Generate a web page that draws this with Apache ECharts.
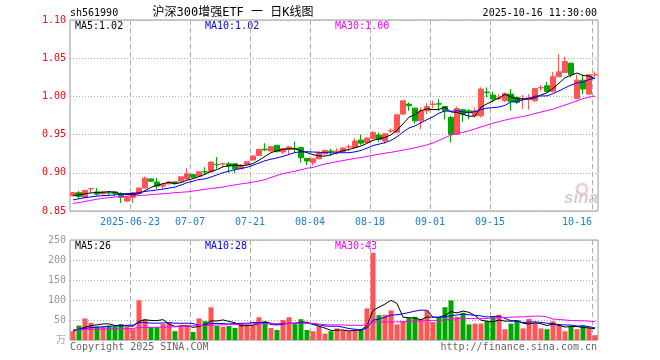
<!DOCTYPE html>
<html><head><meta charset="utf-8">
<script src="https://cdn.jsdelivr.net/npm/echarts@6/dist/echarts.min.js"></script>
<style>html,body{margin:0;padding:0;background:#fff}#c{width:660px;height:360px}</style>
</head><body><div id="c"></div>
<script>
const dates = [
'2025-06-09','2025-06-10','2025-06-11','2025-06-12','2025-06-13','2025-06-16','2025-06-17','2025-06-18','2025-06-19','2025-06-20',
'2025-06-23','2025-06-24','2025-06-25','2025-06-26','2025-06-27','2025-06-30','2025-07-01','2025-07-02','2025-07-03','2025-07-04',
'2025-07-07','2025-07-08','2025-07-09','2025-07-10','2025-07-11','2025-07-14','2025-07-15','2025-07-16','2025-07-17','2025-07-18',
'2025-07-21','2025-07-22','2025-07-23','2025-07-24','2025-07-25','2025-07-28','2025-07-29','2025-07-30','2025-07-31','2025-08-01',
'2025-08-04','2025-08-05','2025-08-06','2025-08-07','2025-08-08','2025-08-11','2025-08-12','2025-08-13','2025-08-14','2025-08-15',
'2025-08-18','2025-08-19','2025-08-20','2025-08-21','2025-08-22','2025-08-25','2025-08-26','2025-08-27','2025-08-28','2025-08-29',
'2025-09-01','2025-09-02','2025-09-03','2025-09-04','2025-09-05','2025-09-08','2025-09-09','2025-09-10','2025-09-11','2025-09-12',
'2025-09-15','2025-09-16','2025-09-17','2025-09-18','2025-09-19','2025-09-22','2025-09-23','2025-09-24','2025-09-25','2025-09-26',
'2025-09-29','2025-09-30','2025-10-09','2025-10-10','2025-10-13','2025-10-14','2025-10-15','2025-10-16'];

const tickDates = ['2025-06-23','2025-07-07','2025-07-21','2025-08-04','2025-08-18','2025-09-01','2025-09-15','2025-10-16'];
const tickLabels = ['2025-06-23','07-07','07-21','08-04','08-18','09-01','09-15','10-16'];

const openP = [0.870,0.874,0.868,0.879,0.875,0.8725,0.874,0.875,0.8725,0.863,
0.868,0.873,0.880,0.892,0.888,0.8825,0.8855,0.888,0.889,0.892,
0.8978,0.8956,0.9015,0.9013,0.911,0.9115,0.9118,0.9118,0.9053,0.911,
0.9167,0.9228,0.931,0.9285,0.936,0.9272,0.9307,0.932,0.9329,0.9189,
0.9132,0.9184,0.925,0.9285,0.928,0.928,0.9338,0.933,0.9428,0.9398,
0.9452,0.9494,0.9417,0.9545,0.9526,0.9768,0.9899,0.9846,0.968,0.9811,
0.9895,0.9904,0.9868,0.9724,0.9504,0.9825,0.9811,0.9746,0.9746,1.0057,
1.0017,0.997,0.9943,1.003,0.9987,0.9965,0.996,0.9943,1.011,1.0139,
1.0065,1.0257,1.0313,1.0435,0.9974,1.0213,1.003,1.028];
const closeP = [0.874,0.869,0.877,0.8795,0.872,0.875,0.8735,0.873,0.868,0.868,
0.874,0.880,0.893,0.889,0.8825,0.8845,0.888,0.886,0.8947,0.8987,
0.8943,0.9013,0.901,0.914,0.9105,0.912,0.9088,0.9053,0.910,0.9145,
0.922,0.9307,0.930,0.9342,0.9276,0.9316,0.9338,0.931,0.9197,0.9154,
0.9184,0.9263,0.9294,0.9278,0.9285,0.9325,0.9342,0.9417,0.9388,0.9455,
0.9526,0.9437,0.951,0.955,0.9759,0.9943,0.9877,0.968,0.9811,0.9868,
0.9899,0.9899,0.9811,0.9504,0.9842,0.9768,0.9785,0.9811,1.0096,1.005,
0.9965,0.998,1.0039,0.993,0.9922,0.997,0.998,1.0104,1.0117,1.0065,
1.0257,1.0322,1.0457,1.0283,1.0213,1.0096,1.0283,1.0285];
const lowP = [0.869,0.866,0.867,0.874,0.870,0.871,0.870,0.870,0.8605,0.862,
0.8605,0.872,0.879,0.888,0.879,0.879,0.885,0.884,0.888,0.891,
0.894,0.895,0.8978,0.900,0.9053,0.9075,0.900,0.900,0.905,0.910,
0.916,0.922,0.9285,0.928,0.927,0.9241,0.9241,0.9263,0.9132,0.910,
0.9096,0.9175,0.9228,0.9228,0.924,0.9275,0.9285,0.932,0.9364,0.939,
0.9439,0.9404,0.938,0.952,0.952,0.976,0.9811,0.9645,0.957,0.9768,
0.9846,0.9811,0.970,0.9395,0.9496,0.9667,0.970,0.9724,0.9724,0.9987,
0.9922,0.995,0.993,0.9813,0.990,0.9835,0.9826,0.993,1.0074,1.0052,
1.0052,1.0257,1.0313,1.0248,0.9965,1.003,1.003,1.0248];
const highP = [0.875,0.876,0.878,0.880,0.880,0.876,0.876,0.876,0.8745,0.870,
0.875,0.881,0.895,0.892,0.8935,0.886,0.889,0.889,0.895,0.9057,
0.898,0.902,0.9075,0.915,0.9206,0.9132,0.914,0.912,0.911,0.915,
0.923,0.931,0.9386,0.9351,0.936,0.9325,0.9351,0.9408,0.9342,0.919,
0.919,0.9285,0.9294,0.9316,0.932,0.933,0.9373,0.9452,0.950,0.946,
0.9548,0.9526,0.952,0.958,0.976,0.9943,0.9921,0.985,0.9855,0.9912,
0.9943,0.9965,0.9877,0.9746,0.9868,0.9833,0.9833,0.9855,1.0118,1.0118,
1.0061,1.003,1.005,1.0096,1.000,1.0017,1.003,1.011,1.0148,1.0191,
1.0322,1.0552,1.052,1.0443,1.0283,1.0278,1.0283,1.0326];

const ma5 = [0.8702,0.8712,0.8725,0.8737,0.8743,0.8745,0.8754,0.8746,0.8723,0.8715,
0.8713,0.8726,0.8766,0.8808,0.8837,0.8858,0.8874,0.886,0.8871,0.8904,
0.8923,0.895,0.898,0.9019,0.9042,0.9078,0.9093,0.9101,0.9093,0.9101,
0.9121,0.9165,0.9214,0.9263,0.9289,0.9308,0.9314,0.9316,0.9287,0.9263,
0.9237,0.9222,0.9218,0.9235,0.9261,0.9289,0.9305,0.9329,0.9351,0.9385,
0.9426,0.9445,0.9463,0.9496,0.9556,0.964,0.9728,0.9762,0.9814,0.9836,
0.9827,0.9831,0.9858,0.9796,0.9791,0.9765,0.9742,0.9742,0.986,0.9902,
0.9941,0.998,1.0026,0.9993,0.9967,0.9968,0.9968,0.9981,1.0019,1.0047,
1.0105,1.0173,1.0244,1.0277,1.0306,1.0274,1.0266,1.0232];
const ma10 = [0.8645,0.866,0.8675,0.8685,0.8695,0.870,0.8705,0.871,0.872,0.8729,
0.8729,0.874,0.8756,0.8766,0.8776,0.8786,0.880,0.8813,0.884,0.887,
0.8891,0.8912,0.892,0.8945,0.8973,0.9001,0.9021,0.9041,0.9056,0.9072,
0.9099,0.9129,0.9158,0.9178,0.9195,0.9215,0.924,0.9265,0.9275,0.9276,
0.9272,0.9268,0.9267,0.9261,0.9262,0.9263,0.9263,0.9274,0.9293,0.9323,
0.9357,0.9375,0.9396,0.9424,0.9471,0.9533,0.9586,0.9613,0.9655,0.9696,
0.9733,0.978,0.981,0.9805,0.9813,0.9796,0.9787,0.980,0.9828,0.9847,
0.9853,0.9861,0.9884,0.9927,0.9935,0.9955,0.9974,1.0004,1.0006,1.0007,
1.0036,1.0071,1.0112,1.0148,1.0177,1.0189,1.022,1.0238];
const ma30 = [0.860,0.861,0.8625,0.864,0.8655,0.8665,0.8675,0.8683,0.8688,0.8692,
0.8696,0.8702,0.8708,0.8714,0.872,0.8726,0.8733,0.874,0.8745,0.875,
0.876,0.8773,0.8783,0.8795,0.8805,0.8813,0.883,0.8842,0.8855,0.8865,
0.8878,0.8893,0.891,0.894,0.8965,0.899,0.9005,0.902,0.904,0.906,
0.907,0.9095,0.9115,0.913,0.9147,0.916,0.9175,0.9188,0.920,0.9215,
0.923,0.9243,0.9257,0.9268,0.9283,0.9297,0.9312,0.9328,0.9345,0.9365,
0.939,0.9425,0.946,0.9493,0.9512,0.953,0.955,0.9575,0.960,0.9625,
0.965,0.967,0.969,0.9708,0.9723,0.9737,0.9755,0.9777,0.9795,0.9815,
0.9833,0.986,0.9887,0.9915,0.9943,0.997,0.999,1.0005];

const volume = [22,36,54,43,34,34,36,34,40,34,
27,99,52,32,32,40,43,22,37,36,
20,54,47,82,35,33,35,30,43,39,
37,57,47,30,25,50,57,39,52,25,
22,34,16,22,29,24,22,24,27,79,
218,62,63,74,39,47,55,58,53,74,
45,55,82,99,58,68,39,41,41,47,
58,63,27,41,50,29,53,43,29,27,
47,37,22,35,27,36,31,12];
const volMa5 = [22,27,32,36,37.8,40.2,40.2,36.2,35.6,35.6,
34.2,46.8,50.4,48.8,48.4,51,39.8,33.8,34.8,35.6,
31.6,33.8,38.8,47.8,47.6,50.2,46.4,43,35.2,36,
36.8,41.2,44.6,42,39.2,41.8,41.8,40.2,44.6,44.6,
39,34.4,29.8,23.8,24.6,25,22.6,24.2,25.2,35.2,
74,82,89.8,99.2,91.2,57,55.6,54.6,50.4,57.4,
57,57,61.8,71,67.8,72.4,69.2,61,49.4,47.2,
45.2,50,47.2,47.2,47.8,42,40,43.2,40.8,36.2,
39.8,36.6,32.4,33.6,33.6,31.4,30.2,28.2];
const volMa10 = [25,27,29,31,32,33,34,35,35.5,36.7,
37.2,43.5,43.3,42.2,42,42.6,43.3,42.1,41.8,42,
41.3,36.8,36.3,41.3,41.6,40.9,40.1,40.9,41.5,41.8,
43.5,43.8,43.8,38.6,37.6,39.3,41.5,42.4,43.3,41.9,
40.4,38.1,35,34.2,34.6,32,28.5,27,24.5,29.9,
49.5,52.3,57,62.2,63.2,65.5,68.8,72.2,74.8,74.3,
57,56.3,58.2,60.7,62.6,64.7,63.1,61.4,60.2,57.5,
58.8,59.6,54.1,48.3,47.5,43.6,45,45.2,44,42,
40.9,38.3,37.8,37.2,34.9,35.6,33.4,30.3];
const volMa30 = [25,25.5,26,26.5,27,27.5,28,28,28.5,28.5,
29,31,31.5,31.5,32,32,32.5,33,34,35,
35.5,36,36.5,37,37.5,38,38.5,39,39.5,40.2,
40.7,41.4,41.1,40.7,40.4,40.9,41.6,41.8,42.2,41.9,
41.7,39.6,38.4,38,37.9,37.4,36.7,36.8,36.4,37.9,
44.5,44.7,45.3,45,45.1,45.6,46.3,47.2,47.5,48.7,
49,48.9,50.1,52.4,53.5,54.1,53.5,53.5,53.2,53.9,
55.1,56.1,56.4,57.1,57.8,57.9,59,59.6,59.7,57.9,
52.2,51.4,50,48.7,48.3,48,47.2,45.6];

const RED = '#ff5555', GREEN = '#00a600';
const MONO = 'DejaVu Sans Mono';
const PRICE_MIN = 0.85, PRICE_MAX = 1.10, VOL_MIN = 0, VOL_MAX = 250;
const candleData = dates.map((d, i) => [openP[i], closeP[i], lowP[i], highP[i]]);
const volData = volume.map((v, i) => ({value: v, itemStyle: {color: closeP[i] >= openP[i] ? RED : GREEN}}));
const tickIdx = tickDates.map(d => dates.indexOf(d));

const hSplit = {show: true, lineStyle: {color: '#aaa', type: [1, 2], width: 1}};
const GRIDLINE = {stroke: '#aaa', lineWidth: 1, lineDash: [5, 3]};

function txt(x, y, text, color, align, size, family) {
  return {type: 'text', x: x, y: y, silent: true,
    style: {text: text, fill: color, font: (size || 10) + 'px ' + (family || MONO),
      textAlign: align || 'left', textVerticalAlign: 'middle', align: align || 'left', verticalAlign: 'middle'}};
}
function line(name, data, color, xi) {
  return {name: name, type: 'line', data: data, xAxisIndex: xi, yAxisIndex: xi, symbol: 'none',
    showSymbol: false, lineStyle: {color: color, width: 1}, itemStyle: {color: color}, z: 5, silent: true};
}
// vertical dashed grid line at the left edge of each tick date's band (custom series, through the axis scales)
function vGrid(xi, y0, y1) {
  return {type: 'custom', xAxisIndex: xi, yAxisIndex: xi, silent: true,
    data: tickIdx.map(i => [i, y0]),
    renderItem: function (params, api) {
      const i = api.value(0);
      const a = api.coord([i, y1]);
      const b = api.coord([i, y0]);
      const bw = api.size([1, 0])[0] || 6;
      const x = Math.round(a[0] - bw / 2) + 0.5;
      return {type: 'line', shape: {x1: x, y1: a[1], x2: x, y2: b[1]}, style: GRIDLINE};
    }};
}

const texts = [
  txt(70, 13, 'sh561990', '#000', 'left', 10),
  txt(233, 13, '沪深300增强ETF 一 日K线图', '#000', 'center', 12, "'DejaVu Sans Mono','Noto Sans CJK SC'"),
  txt(597, 13, '2025-10-16 11:30:00', '#000', 'right', 10),
  txt(75, 26, 'MA5:1.02', '#000', 'left', 10),
  txt(205, 26, 'MA10:1.02', '#0000ff', 'left', 10),
  txt(335, 26, 'MA30:1.00', '#ff00ff', 'left', 10),
  txt(75, 246, 'MA5:26', '#000', 'left', 10),
  txt(205, 246, 'MA10:28', '#0000ff', 'left', 10),
  txt(335, 246, 'MA30:43', '#ff00ff', 'left', 10),
  txt(66, 339, '万', '#aaa', 'right', 10, "'Noto Sans CJK SC'"),
  txt(70, 347, 'Copyright 2025 SINA.COM', '#666', 'left', 10),
  txt(597, 347, 'http://finance.sina.com.cn', '#666', 'right', 10),
  {type: 'circle', shape: {cx: 582, cy: 189, r: 5}, silent: true,
   style: {fill: 'none', stroke: 'rgba(230,120,120,0.35)', lineWidth: 3}},
  {type: 'text', x: 581, y: 198, silent: true,
   style: {text: 'sina', fill: 'rgba(150,150,150,0.45)', font: 'italic bold 17px Arial, Liberation Sans',
     textAlign: 'center', textVerticalAlign: 'middle', align: 'center', verticalAlign: 'middle'}}
];

const chart = echarts.init(document.getElementById('c'), null, {renderer: 'canvas'});
chart.setOption({
  animation: false,
  backgroundColor: '#fff',
  grid: [
    {left: 70, top: 20, width: 528, height: 191, show: true, borderColor: '#999', borderWidth: 1},
    {left: 70, top: 240, width: 528, height: 100, show: true, borderColor: '#999', borderWidth: 1}
  ],
  xAxis: [
    {type: 'category', gridIndex: 0, data: dates, boundaryGap: true,
     axisLine: {show: false}, axisTick: {show: false}, splitLine: {show: false}, axisLabel: {show: false}},
    {type: 'category', gridIndex: 1, data: dates, boundaryGap: true,
     axisLine: {show: false}, axisTick: {show: false}, axisLabel: {show: false}, splitLine: {show: false}}
  ],
  yAxis: [
    {type: 'value', gridIndex: 0, min: PRICE_MIN, max: PRICE_MAX, interval: 0.05,
     axisLine: {show: false}, axisTick: {show: false}, splitLine: hSplit,
     axisLabel: {margin: 4, color: '#ff0000', fontFamily: MONO, fontSize: 10, formatter: v => v.toFixed(2)}},
    {type: 'value', gridIndex: 1, min: VOL_MIN, max: VOL_MAX, interval: 50,
     axisLine: {show: false}, axisTick: {show: false}, splitLine: hSplit,
     axisLabel: {margin: 4, color: '#999', fontFamily: MONO, fontSize: 10, formatter: v => v === 0 ? '' : String(v)}}
  ],
  series: [
    vGrid(0, PRICE_MIN, PRICE_MAX),
    vGrid(1, VOL_MIN, VOL_MAX),
    {name: 'K', type: 'candlestick', data: candleData, xAxisIndex: 0, yAxisIndex: 0, barWidth: 5,
     itemStyle: {color: RED, color0: GREEN, borderColor: RED, borderColor0: GREEN, borderWidth: 1}, silent: true, z: 3},
    line('MA5', ma5, '#000000', 0),
    line('MA10', ma10, '#0000ff', 0),
    line('MA30', ma30, '#ff00ff', 0),
    {name: 'VOL', type: 'bar', data: volData, xAxisIndex: 1, yAxisIndex: 1, barWidth: 5, silent: true, z: 3},
    line('VMA5', volMa5, '#000000', 1),
    line('VMA10', volMa10, '#0000ff', 1),
    line('VMA30', volMa30, '#ff00ff', 1)
  ],
  graphic: texts
});

// date labels and (identical, overlapping) grid lines at the left edge of each tick date's band
const extra = [];
tickIdx.forEach(function (idx, k) {
  [[0, PRICE_MIN, PRICE_MAX], [1, VOL_MIN, VOL_MAX]].forEach(function (g) {
    const a = chart.convertToPixel({gridIndex: g[0]}, [idx, g[2]]);
    const b = chart.convertToPixel({gridIndex: g[0]}, [idx, g[1]]);
    const p = chart.convertToPixel({gridIndex: g[0]}, [Math.max(idx - 1, 0), g[1]]);
    const bw = (b[0] - p[0]) || 6;
    const edge = b[0] - bw / 2;
    const x = Math.round(a[0] - bw / 2) + 0.5;
    extra.push({type: 'line', shape: {x1: x, y1: a[1], x2: x, y2: b[1]}, style: GRIDLINE});
    if (g[0] === 0) {
      const last = k === tickIdx.length - 1;
      extra.push(txt(edge, b[1] + 11, tickLabels[k], '#1a7fd4', last ? 'right' : 'center', 10));
    }
  });
});
chart.setOption({graphic: texts.concat(extra)});
</script>
</body></html>
